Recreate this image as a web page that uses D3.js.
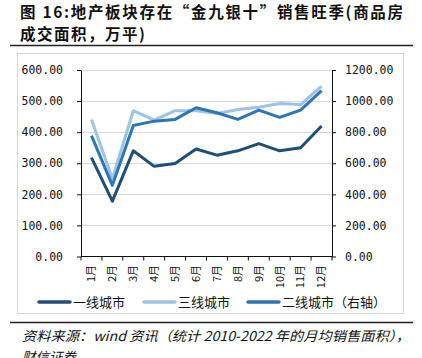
<!DOCTYPE html>
<html><head><meta charset="utf-8">
<script src="https://cdn.jsdelivr.net/npm/d3@7/dist/d3.min.js"></script>
<style>
html,body{margin:0;padding:0;background:#fff;}
svg{display:block;}
</style></head>
<body>
<svg id="c" width="422" height="358"></svg>
<script>
const months = ["1月","2月","3月","4月","5月","6月","7月","8月","9月","10月","11月","12月"];
const tier1 = [318,178,340,290,299,346,326,340,363,340,350,420];
const tier3 = [441,250,469,439,469,469,460,473,480,492,489,548];
const tier2 = [778,458,843,871,882,957,925,882,942,895,942,1067];
const leftTicks = [0,100,200,300,400,500,600];
const rightTicks = [0,200,400,600,800,1000,1200];
const seriesNames = ["一线城市","三线城市","二线城市（右轴）"];
const colors = ["#1F4E79","#9DC3E6","#2E75B6"];

const svg = d3.select("#c");
const cjkFont = "'Noto Sans CJK SC','Noto Sans CJK JP',sans-serif";

// Title
svg.append("text").attr("x",20).attr("y",18).attr("font-family",cjkFont)
  .attr("font-weight","bold").attr("font-size",15.5).attr("fill","#111")
  .attr("textLength",383).attr("lengthAdjust","spacing")
  .text("图 16:地产板块存在“金九银十”销售旺季(商品房");
svg.append("text").attr("x",20).attr("y",40).attr("font-family",cjkFont)
  .attr("font-weight","bold").attr("font-size",15.5).attr("fill","#111")
  .attr("letter-spacing",1.5)
  .text("成交面积，万平)");
svg.append("line").attr("x1",10).attr("x2",413).attr("y1",45.5).attr("y2",45.5)
  .attr("stroke","#222").attr("stroke-width",1.5);

// frame
svg.append("rect").attr("x",17.5).attr("y",53.5).attr("width",386).attr("height",260)
  .attr("fill","none").attr("stroke","#d9d9d9");

const x0 = 81, x1 = 332, yTop = 70, yBot = 256.5;
const x = d3.scaleBand().domain(months).range([x0,x1]).padding(0);
const yL = d3.scaleLinear().domain([0,600]).range([yBot,yTop]);
const yR = d3.scaleLinear().domain([0,1200]).range([yBot,yTop]);

// grid
svg.append("g").selectAll("line").data(leftTicks.filter(d=>d>0)).join("line")
  .attr("x1",x0).attr("x2",x1).attr("y1",d=>Math.round(yL(d))+0.5).attr("y2",d=>Math.round(yL(d))+0.5)
  .attr("stroke","#d9d9d9").attr("stroke-width",1);

const monoFont = "'DejaVu Sans Mono',monospace";
const ga = svg.append("g").attr("transform",`translate(${x0},0)`)
  .call(d3.axisLeft(yL).tickValues(leftTicks).tickFormat(d3.format(".2f")).tickSize(4).tickSizeOuter(0).tickPadding(14));
const gr = svg.append("g").attr("transform",`translate(${x1},0)`)
  .call(d3.axisRight(yR).tickValues(rightTicks).tickFormat(d3.format(".2f")).tickSize(4).tickSizeOuter(0).tickPadding(9));
[ga,gr].forEach(g=>{
  g.selectAll("text").attr("font-family",monoFont).attr("font-size",11.5).attr("fill","#111");
  g.selectAll("line,path").attr("stroke","#111");
});

// bottom axis
svg.append("line").attr("x1",x0).attr("x2",x1).attr("y1",yBot).attr("y2",yBot).attr("stroke","#111");
const bounds = months.map(m=>x(m)).concat([x.range()[1]]);
svg.append("g").selectAll("line").data(bounds).join("line")
  .attr("x1",d=>d).attr("x2",d=>d).attr("y1",yBot).attr("y2",yBot+4).attr("stroke","#111");
svg.append("g").selectAll("text").data(months).join("text")
  .attr("transform",d=>`translate(${x(d)+x.bandwidth()/2},265) rotate(-90)`)
  .attr("text-anchor","end").attr("dy","0.35em")
  .attr("font-family","'Noto Sans CJK SC',sans-serif").attr("font-size",11).attr("fill","#111")
  .text(d=>d);

// lines
const cx = d=>x(d)+x.bandwidth()/2;
const lineL = d3.line().x((d,i)=>cx(months[i])).y(d=>yL(d));
const lineR = d3.line().x((d,i)=>cx(months[i])).y(d=>yR(d));
svg.append("path").attr("d",lineL(tier3)).attr("fill","none").attr("stroke",colors[1]).attr("stroke-width",3).attr("stroke-linejoin","round");
svg.append("path").attr("d",lineR(tier2)).attr("fill","none").attr("stroke",colors[2]).attr("stroke-width",3).attr("stroke-linejoin","round");
svg.append("path").attr("d",lineL(tier1)).attr("fill","none").attr("stroke",colors[0]).attr("stroke-width",3).attr("stroke-linejoin","round");

// legend
const legX = [38,143,247];
seriesNames.forEach((n,i)=>{
  svg.append("line").attr("x1",legX[i]+1).attr("x2",legX[i]+32).attr("y1",302).attr("y2",302)
    .attr("stroke",colors[i]).attr("stroke-width",3.5).attr("stroke-linecap","round");
  svg.append("text").attr("x",legX[i]+35).attr("y",302).attr("dy","0.36em")
    .attr("font-family","'Noto Sans CJK SC',sans-serif").attr("font-size",13).attr("fill","#111")
    .text(n);
});

// footer
svg.append("line").attr("x1",10).attr("x2",413).attr("y1",322.5).attr("y2",322.5)
  .attr("stroke","#222").attr("stroke-width",1.5);
svg.append("text").attr("x",22).attr("y",341).attr("font-family",cjkFont)
  .attr("font-style","italic").attr("font-size",13.5).attr("fill","#111")
  .attr("textLength",388).attr("lengthAdjust","spacingAndGlyphs")
  .text("资料来源：wind 资讯（统计 2010-2022 年的月均销售面积），");
svg.append("text").attr("x",22).attr("y",362).attr("font-family",cjkFont)
  .attr("font-style","italic").attr("font-size",13.5).attr("fill","#111")
  .text("财信证券");
</script>
</body></html>
